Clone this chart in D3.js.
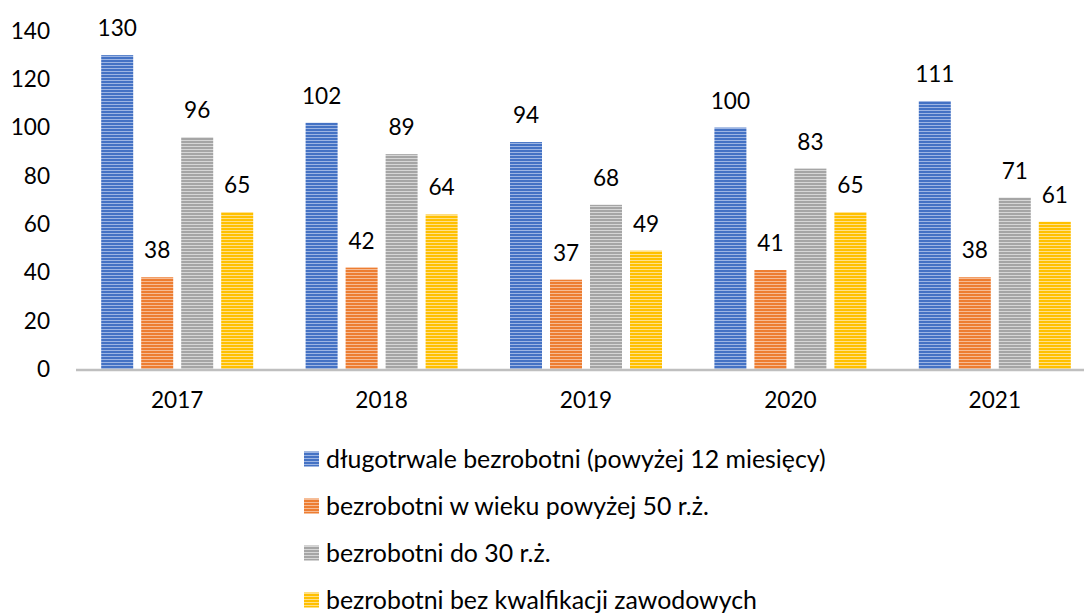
<!DOCTYPE html>
<html><head><meta charset="utf-8">
<script src="https://cdn.jsdelivr.net/npm/d3@7"></script>
<style>body{margin:0;background:#fff;}svg{display:block;}</style>
</head><body>
<svg id="c" width="1084" height="615"></svg>
<script>
const categories = ["2017","2018","2019","2020","2021"];
const seriesNames = [
  "długotrwale bezrobotni (powyżej 12 miesięcy)",
  "bezrobotni w wieku powyżej 50 r.ż.",
  "bezrobotni do 30 r.ż.",
  "bezrobotni bez kwalfikacji zawodowych"
];
const longTerm = [130,102,94,100,111];
const over50 = [38,42,37,41,38];
const under30 = [96,89,68,83,71];
const noQual = [65,64,49,65,61];
const yTicks = [0,20,40,60,80,100,120,140];
const colors = ["#4472C4","#ED7D31","#A5A5A5","#FFC000"];
const lights = ["#9db5e3","#f6bb94","#d6d6d6","#ffe08a"];
const seriesValues = [longTerm, over50, under30, noQual];

const svg = d3.select("#c");
const FONT = "Lato, 'Noto Sans', sans-serif";

function fitSize(str, target){
  const t = svg.append("text").attr("font-family",FONT).attr("font-size",100).text(str);
  const w = t.node().getComputedTextLength(); t.remove();
  return 100*target/w;
}
const numSize = fitSize("2017", 52.5);
const legSize = fitSize(seriesNames[0], 500);

const defs = svg.append("defs");
colors.forEach((c,i)=>{
  const p = defs.append("pattern").attr("id","p"+i).attr("patternUnits","userSpaceOnUse")
    .attr("width",8).attr("height",3);
  p.append("rect").attr("width",8).attr("height",3).attr("fill",c);
  p.append("rect").attr("y",2).attr("width",8).attr("height",1).attr("fill",lights[i]);
});

const x0 = d3.scaleBand().domain(categories).range([75,1097]).padding(0);
const x1 = d3.scaleBand().domain(d3.range(4)).range([-76,76]).paddingInner(0.2).paddingOuter(0);
const y = d3.scaleLinear().domain([0,140]).range([369,31]);

// y tick labels
svg.append("g").selectAll("text").data(yTicks).join("text")
  .attr("x",50).attr("y",d=>y(d)).attr("dy","0.35em").attr("text-anchor","end")
  .attr("font-family",FONT).attr("font-size",numSize).attr("fill","#000").text(d=>d);

// bars
const groups = svg.append("g").selectAll("g").data(categories).join("g")
  .attr("transform",d=>`translate(${x0(d)+x0.bandwidth()/2},0)`);
groups.each(function(cat,ci){
  const g = d3.select(this);
  seriesValues.forEach((vals,si)=>{
    g.append("rect").attr("x",x1(si)).attr("width",x1.bandwidth())
      .attr("y",y(vals[ci])).attr("height",y(0)-y(vals[ci]))
      .attr("fill",`url(#p${si})`);
    g.append("text").attr("x",x1(si)+x1.bandwidth()/2).attr("y",y(vals[ci])-19)
      .attr("text-anchor","middle").attr("font-family",FONT).attr("font-size",numSize)
      .attr("fill","#000").text(vals[ci]);
  });
});

// axis line
svg.append("line").attr("x1",76).attr("x2",1084).attr("y1",y(0)+1).attr("y2",y(0)+1)
  .attr("stroke","#BFBFBF").attr("stroke-width",2.5);

// x labels
svg.append("g").selectAll("text").data(categories).join("text")
  .attr("x",d=>x0(d)+x0.bandwidth()/2).attr("y",408).attr("text-anchor","middle")
  .attr("font-family",FONT).attr("font-size",numSize).attr("fill","#000").text(d=>d);

// legend
const leg = svg.append("g").selectAll("g").data(seriesNames).join("g")
  .attr("transform",(d,i)=>`translate(304,${459+i*47})`);
leg.append("rect").attr("x",0).attr("y",-7.5).attr("width",15).attr("height",15)
  .attr("fill",(d,i)=>`url(#p${i})`);
leg.append("text").attr("x",22).attr("y",0).attr("dy","0.35em")
  .attr("font-family",FONT).attr("font-size",legSize).attr("fill","#000").text(d=>d);
</script>
</body></html>
